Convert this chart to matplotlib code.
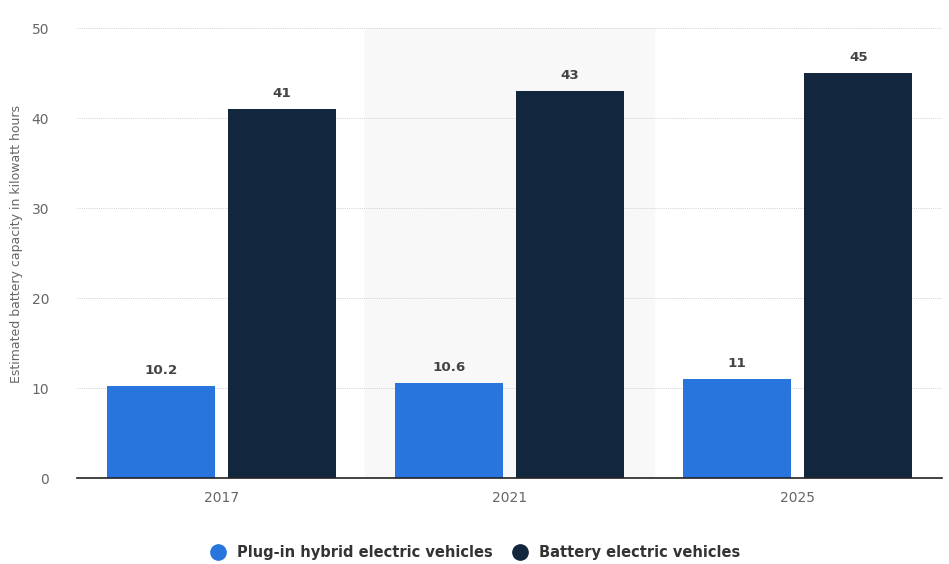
import numpy as np
import matplotlib.pyplot as plt
from matplotlib.lines import Line2D

years = ["2017", "2021", "2025"]
phev = [10.2, 10.6, 11]
bev = [41, 43, 45]
phev_labels = ["10.2", "10.6", "11"]
bev_labels = ["41", "43", "45"]
series_names = ["Plug-in hybrid electric vehicles", "Battery electric vehicles"]

blue = "#2876dd"
navy = "#12273d"

plt.rcParams['font.family'] = ['DejaVu Sans']

fig = plt.figure(figsize=(9.49, 5.64), dpi=100)
ax = fig.add_axes([77 / 949, 86 / 564, 865 / 949, 450 / 564])

x = np.arange(len(years))
w = 0.375
off = 0.21

# shaded band behind every second group
for i in x:
    if i % 2 == 1:
        ax.axvspan(i - 0.5, i + 0.5, color="#f8f8f8", zorder=0)

ax.bar(x - off, phev, w, color=blue, zorder=3)
ax.bar(x + off, bev, w, color=navy, zorder=3)

for xi, v, s in zip(x, phev, phev_labels):
    ax.text(xi - off, v + 1.0, s, ha="center", va="bottom", fontsize=9.7,
            fontweight="bold", color="#444444")
for xi, v, s in zip(x, bev, bev_labels):
    ax.text(xi + off, v + 1.0, s, ha="center", va="bottom", fontsize=9.7,
            fontweight="bold", color="#444444")

ax.set_xlim(-0.5, 2.5)
ax.set_ylim(0, 50)
ax.set_yticks([0, 10, 20, 30, 40, 50])
ax.set_xticks(x)
ax.set_xticklabels(years)
ax.tick_params(axis="both", length=0, labelsize=10, labelcolor="#666666")
ax.tick_params(axis="x", pad=9)
ax.tick_params(axis="y", pad=20)
ax.grid(axis="y", color="#d0d0d0", linestyle=(0, (1, 1.2)), linewidth=0.7, zorder=1)
for s in ["top", "right", "left"]:
    ax.spines[s].set_visible(False)
ax.spines["bottom"].set_color("#222222")
ax.spines["bottom"].set_linewidth(1.2)
ax.spines["bottom"].set_zorder(4)

ax.set_ylabel("Estimated battery capacity in kilowatt hours", fontsize=9,
              color="#666666")
ax.yaxis.set_label_coords(-0.063, 0.52)

handles = [Line2D([], [], marker="o", linestyle="", markersize=11, color=blue),
           Line2D([], [], marker="o", linestyle="", markersize=11, color=navy)]
leg = fig.legend(handles, series_names, loc="center", bbox_to_anchor=(472 / 949, 1 - 553 / 564),
                 ncol=2, frameon=False, handletextpad=0.3, columnspacing=0.9,
                 prop={"size": 10.5, "weight": "bold"})
for t in leg.get_texts():
    t.set_color("#333333")

fig.savefig("out.png", dpi=100)
